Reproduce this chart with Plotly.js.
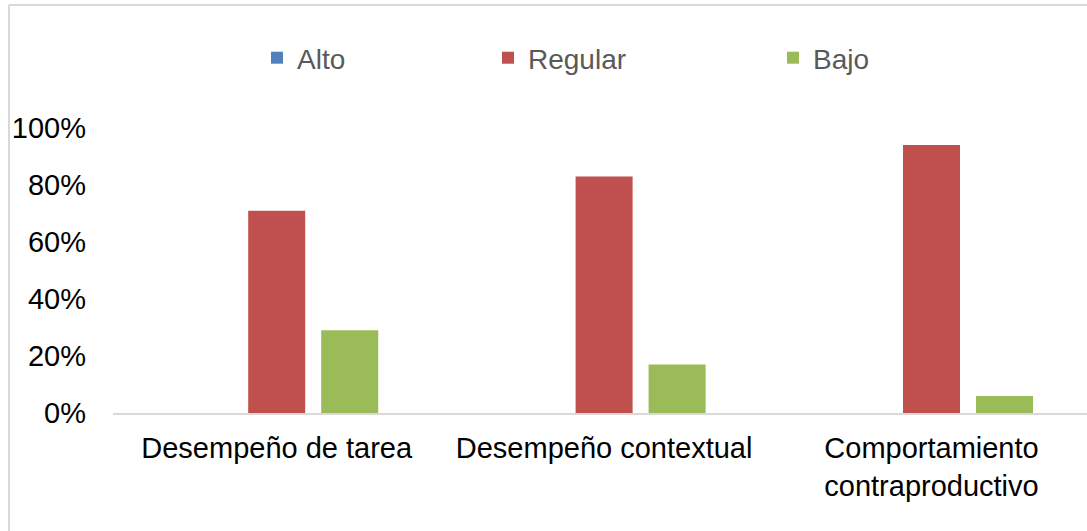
<!DOCTYPE html>
<html>
<head>
<meta charset="utf-8">
<script src="https://cdn.plot.ly/plotly-3.0.1.min.js"></script>
<style>
  html, body { margin: 0; padding: 0; background: #ffffff; }
  #chart { width: 1087px; height: 531px; }
</style>
</head>
<body>
<div id="chart"></div>
<script>
// Dimensions of job performance and share of respondents per level
var categories = ['Desempeño de tarea', 'Desempeño contextual', 'Comportamiento<br>contraproductivo'];
var alto = [0, 0, 0];
var regular = [0.71, 0.83, 0.94];
var bajo = [0.29, 0.17, 0.06];
var yTicks = [0, 0.2, 0.4, 0.6, 0.8, 1.0];

var FONT = 'Liberation Sans, Arial, sans-serif';
var FS = 29;
var W = 1087, H = 531;
var M = { l: 113, r: 0, t: 128, b: 118 };
var plotW = W - M.l - M.r;
var plotH = H - M.t - M.b;
var catStep = 327.4; // pixel distance between category centres

function px2paperX(px) { return (px - M.l) / plotW; }
function px2paperY(py) { return (H - M.b - py) / plotH; }

var traces = [
  { name: 'Alto', y: alto, color: '#4F81BD', legend: 'legend' },
  { name: 'Regular', y: regular, color: '#C0504D', legend: 'legend2' },
  { name: 'Bajo', y: bajo, color: '#9BBB59', legend: 'legend3' }
].map(function (s) {
  return {
    type: 'bar',
    name: s.name,
    x: categories,
    y: s.y,
    marker: { color: s.color },
    legend: s.legend,
    hoverinfo: 'x+y+name'
  };
});

function legendAt(px) {
  return {
    x: px2paperX(px), xanchor: 'left',
    y: px2paperY(58), yanchor: 'middle',
    orientation: 'h',
    bgcolor: 'rgba(0,0,0,0)',
    borderwidth: 0,
    font: { family: FONT, size: FS - 1, color: '#595959' }
  };
}

var borderColor = '#d9d9d9';
var layout = {
  width: W,
  height: H,
  margin: M,
  paper_bgcolor: '#ffffff',
  plot_bgcolor: '#ffffff',
  barmode: 'group',
  bargap: 0.331,
  bargroupgap: 0.219,
  font: { family: FONT, size: FS, color: '#000000' },
  showlegend: true,
  legend: legendAt(257),
  legend2: legendAt(488),
  legend3: legendAt(773),
  xaxis: {
    type: 'category',
    range: [-0.5, -0.5 + plotW / catStep],
    showgrid: false,
    zeroline: false,
    showline: true,
    linecolor: borderColor,
    linewidth: 2,
    ticks: '',
    ticklabelstandoff: 8,
    tickfont: { family: FONT, size: FS, color: '#000000' },
    fixedrange: true
  },
  yaxis: {
    range: [0, 1],
    tickvals: yTicks,
    tickformat: '.0%',
    showgrid: false,
    zeroline: false,
    showline: false,
    ticks: '',
    ticklabelstandoff: 26,
    tickfont: { family: FONT, size: FS, color: '#000000' },
    fixedrange: true
  },
  shapes: [
    // chart frame (top and left edges)
    { type: 'line', xref: 'paper', yref: 'paper',
      x0: px2paperX(9), x1: px2paperX(W + 5), y0: px2paperY(5), y1: px2paperY(5),
      line: { color: borderColor, width: 2 } },
    { type: 'line', xref: 'paper', yref: 'paper',
      x0: px2paperX(9), x1: px2paperX(9), y0: px2paperY(5), y1: px2paperY(H + 5),
      line: { color: borderColor, width: 2 } }
  ]
};

Plotly.newPlot('chart', traces, layout, { displayModeBar: false, staticPlot: true });
</script>
</body>
</html>
